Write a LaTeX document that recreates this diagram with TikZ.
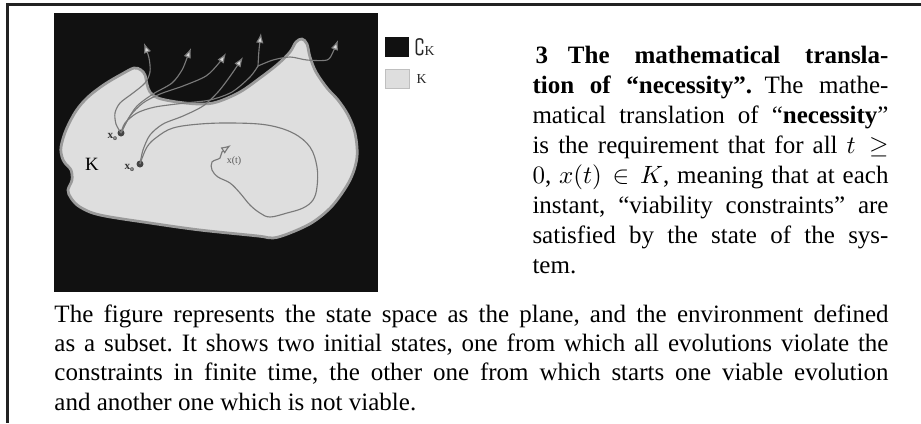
\documentclass[tikz,border=0pt]{standalone}
\usepackage{amssymb}
\usepackage{fontspec}
\setmainfont{Liberation Serif}
\usetikzlibrary{arrows.meta}
\definecolor{framecol}{HTML}{222222}
\definecolor{bgblack}{HTML}{111111}
\definecolor{kfill}{HTML}{DEDEDE}
\definecolor{krim}{HTML}{9A9A9A}
\definecolor{trajcol}{HTML}{7A7A7A}
\definecolor{dotcol}{HTML}{444444}
\tikzset{
  blob/.style={fill=kfill, draw=krim, line width=1.1pt},
  traj/.style={draw=trajcol, line width=0.45pt},
  trajarrow/.style={traj, -{Latex[length=4pt,width=3pt,fill=black!15]}},
  startdot/.style={circle, fill=dotcol, inner sep=0pt, minimum size=2.8pt},
  para/.style={inner sep=0pt, align=justify, anchor=base west},
  smalllab/.style={inner sep=0pt, text=black!80},
}
\begin{document}
\begin{tikzpicture}[x=0.4pt,y=-0.4pt]
\useasboundingbox (0,0) rectangle (921,423);
% frame
\fill[framecol] (6,3) rectangle (921,6);
\fill[framecol] (6,3) rectangle (9,423);
% image background
\fill[bgblack] (54,13) rectangle (378,292);
% the set K
\draw[blob] plot[smooth cycle, tension=0.55] coordinates {
 (62,157) (65,163) (71,170) (72,180) (68,190) (71,198) (80,207) (100,215)
 (150,223) (200,230) (258,236) (273,238) (290,233) (313,222) (333,205)
 (350,180) (357,157) (355,133) (348,115) (338,100) (327,88) (316,72)
 (310,57) (307,44) (302,39) (296,42) (290,52) (278,64) (260,78) (240,92)
 (217,102) (200,104) (177,102) (158,98) (150,92) (147,84) (145,75)
 (141,70) (134,68) (122,74) (105,84) (88,97) (76,111) (66,130) (61,147)};
% start points
\node[startdot] (xa) at (121,133) {};
\node[startdot] (xb) at (140,164) {};
\coordinate (jn) at (258,66);
% trajectories from upper x0
\draw[trajarrow] plot[smooth] coordinates {(xa) (116,124) (115,113) (120,103) (133,93) (145,83) (150,72) (149,58) (144,43)};
\draw[trajarrow] plot[smooth] coordinates {(xa) (127,121) (137,106) (153,94) (172,83) (182,70) (187,58) (191,48)};
\draw[trajarrow] plot[smooth] coordinates {(xa) (130,116) (143,103) (160,94) (183,86) (206,76) (219,63) (226,53)};
\draw[traj] plot[smooth] coordinates {(xa) (125,123) (137,113) (155,107) (185,103) (210,100) (232,92) (250,77) (jn)};
\draw[trajarrow] plot[smooth] coordinates {(jn) (259,50) (261,33)};
\draw[trajarrow] plot[smooth] coordinates {(jn) (273,60) (290,57) (307,60) (327,60) (333,52) (338,40)};
% trajectories from lower x0
\draw[trajarrow] plot[smooth] coordinates {(xb) (143,150) (150,135) (163,124) (183,116) (203,106) (218,92) (231,75) (243,57)};
\draw[trajarrow] plot[smooth, tension=0.6] coordinates {(xb) (147,147) (157,137) (173,128) (200,124) (233,123) (267,125) (293,133) (310,147) (317,167) (317,187) (313,200) (303,208) (287,213) (270,217) (260,213) (250,205) (240,193) (230,183) (218,177) (212,170) (212,162) (220,158) (222,152) (231,145)};
% labels in the image
\node[smalllab, font=\fontsize{4.5}{5}\selectfont\bfseries] (la) at (113,137) {x\textsubscript{o}};
\node[smalllab, font=\fontsize{4.5}{5}\selectfont\bfseries] (lb) at (130,168) {x\textsubscript{o}};
\node[smalllab, text=black, font=\fontsize{7.5}{8}\selectfont] (lk) at (92,164) {K};
\node[smalllab, text=black!65, font=\fontsize{4}{5}\selectfont] (lt) at (234,161) {x(t)};
% legend
\fill[bgblack] (385,37) rectangle (409,57);
\node[smalllab, anchor=west, text=black!85, font=\fontsize{8}{9}\selectfont] (lc) at (414,47) {$\complement${\fontsize{5.5}{6}\selectfont K}};
\filldraw[fill=kfill, draw=black!25, line width=0.3pt] (385,69) rectangle (409,88);
\node[smalllab, anchor=west, text=black!85, font=\fontsize{5.5}{6}\selectfont] (lk2) at (416,79) {K};
% right column text
\node[para, text width=142.4pt, font=\fontsize{10}{12}\selectfont\frenchspacing] (sec) at (532,63) {\hspace*{1.2pt}\textbf{3\hspace{0.8em}The mathematical transla-}\linebreak
\textbf{tion of “necessity”.}\enspace The mathe-\linebreak
matical translation of “\textbf{necessity}”\linebreak
is the requirement that for all $t\geq$\linebreak
$0$, $x(t)\in K$, meaning that at each\linebreak
instant, “viability constraints” are\linebreak
satisfied by the state of the sys-\linebreak
tem.};
% caption text
\node[para, text width=333.6pt, font=\fontsize{10}{11.75}\selectfont\frenchspacing] (cap) at (54,322) {The figure represents the state space as the plane, and the environment defined\linebreak
as a subset. It shows two initial states, one from which all evolutions violate the\linebreak
constraints in finite time, the other one from which starts one viable evolution\linebreak
and another one which is not viable.};
\end{tikzpicture}
\end{document}
